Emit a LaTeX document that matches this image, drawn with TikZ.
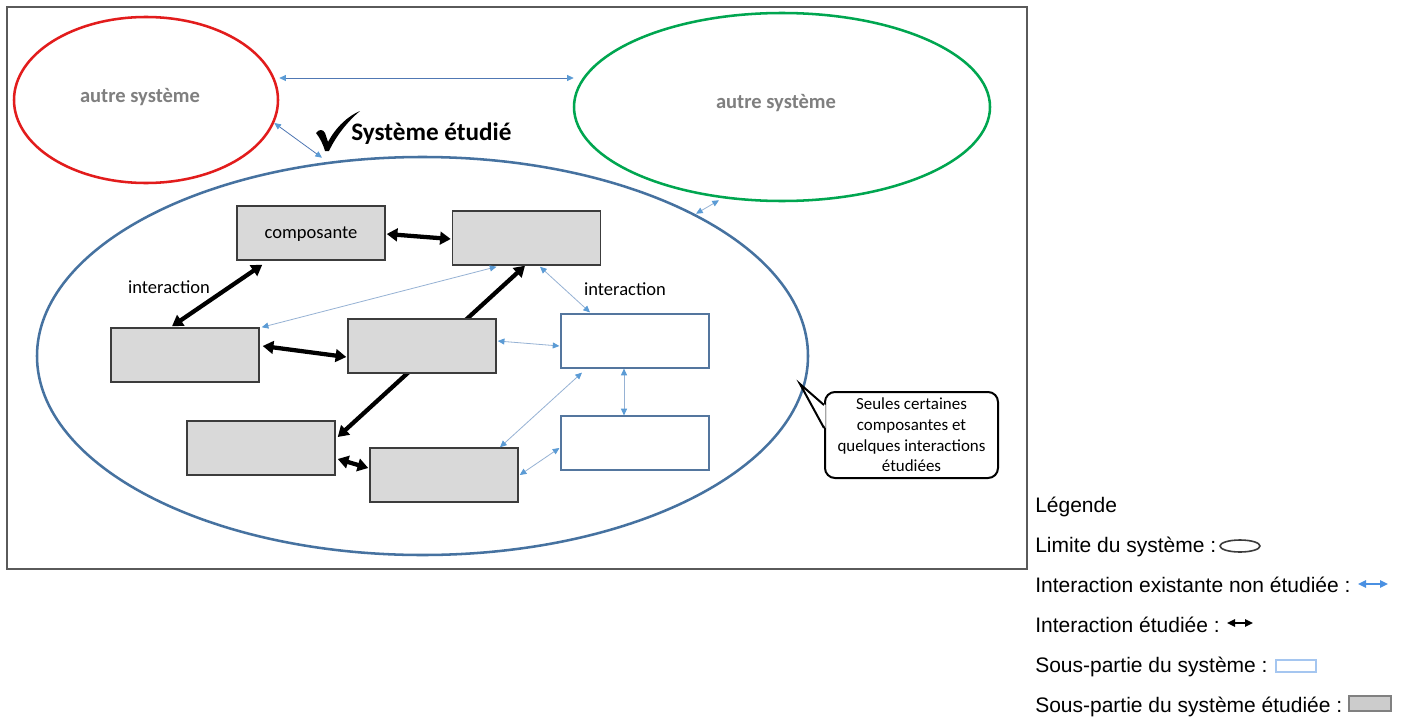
\documentclass[tikz,border=0pt]{standalone}
\usepackage{fontspec}
\setmainfont{Carlito}
\newfontfamily\legendfont{Liberation Sans}
\usetikzlibrary{arrows.meta,shapes.geometric,calc}
\pgfdeclarelayer{bg}
\pgfsetlayers{bg,main}
\definecolor{redE}{RGB}{226,28,28}
\definecolor{greenE}{RGB}{0,166,80}
\definecolor{blueE}{RGB}{70,114,160}
\definecolor{boxfill}{RGB}{217,217,217}
\definecolor{boxborder}{RGB}{60,60,60}
\definecolor{subborder}{RGB}{84,118,158}
\definecolor{thinline}{RGB}{150,178,212}
\definecolor{thinlineD}{RGB}{80,120,180}
\definecolor{thinhead}{RGB}{91,155,213}
\definecolor{graytext}{RGB}{127,127,127}
\definecolor{framecol}{RGB}{90,90,90}
\definecolor{legblue}{RGB}{74,144,226}
\definecolor{legrect}{RGB}{165,198,240}
\begin{document}
\begin{tikzpicture}[x=0.75pt,y=-0.75pt,
  comp/.style={draw=boxborder, fill=boxfill, line width=1.1pt, minimum width=111pt, minimum height=40.5pt, inner sep=0pt, font=\fontsize{13.9}{16}\selectfont},
  sub/.style={draw=subborder, fill=white, line width=0.9pt, minimum width=111pt, minimum height=40.5pt, inner sep=0pt},
  thickarr/.style={line width=3.2pt, {Triangle[length=8pt,width=9.5pt]}-{Triangle[length=8pt,width=9.5pt]}},
  thinarr/.style={draw=thinline, line width=0.6pt, {Triangle[length=5pt,width=4.5pt,color=thinhead]}-{Triangle[length=5pt,width=4.5pt,color=thinhead]}},
  thinarrD/.style={thinarr, draw=thinlineD},
  sysell/.style={ellipse, inner sep=0pt, line width=1.9pt},
  othertext/.style={font=\fontsize{15.4}{18}\selectfont\bfseries, text=graytext},
  lbl/.style={font=\fontsize{13.9}{16}\selectfont},
  legtext/.style={anchor=base west, inner sep=0pt, font=\legendfont\fontsize{15.75}{18}\selectfont}
]
\useasboundingbox (0,0) rectangle (1401,717);
\begin{pgfonlayer}{bg}
\fill[white] (0,0) rectangle (1401,717);
\end{pgfonlayer}
% frame
\draw[framecol, line width=1.1pt] (7,7) rectangle (1027,569);

% ellipses
\node[sysell, draw=redE, minimum width=198pt, minimum height=124.5pt] (R) at (146,100) {};
\node[sysell, draw=greenE, minimum width=312pt, minimum height=141pt] (Gr) at (782,107) {};
\node[sysell, draw=blueE, minimum width=578.25pt, minimum height=298.5pt] (S) at (422.5,356) {};
\node[othertext] (Rt) at (140,97) {autre système};
\node[othertext] (Gt) at (776,103) {autre système};

% title with check mark
\fill (316,133) .. controls (319,129) and (323,129) .. (325,133)
  .. controls (326,136) and (327,139) .. (328,142)
  .. controls (336,127) and (348,116) .. (360,111)
  .. controls (348,121) and (336,136) .. (329,151)
  -- (325,151)
  .. controls (323,144) and (320,138) .. (316,133) -- cycle;
\node[anchor=west, inner sep=0pt, font=\fontsize{18.9}{22}\selectfont\bfseries] (T) at (351,134) {Système étudié};

% components
\node[comp, text height=2.3ex] (A) at (311,233) {composante};
\node[comp] (B) at (526.5,238) {};
\node[comp] (C) at (185,355) {};
\node[comp] (D) at (422,346) {};
\node[comp] (E) at (261,448) {};
\node[comp] (F) at (444,475) {};
\node[sub] (G) at (635,341) {};
\node[sub] (H) at (635,443) {};

\node[lbl] (L1) at (169,287) {interaction};
\node[lbl] (L2) at (625,289) {interaction};

% thick arrow behind D
\begin{pgfonlayer}{bg}
\draw[thickarr] ($(E.east)+(2,-11)$) -- ($(B.south)+(-1.5,0)$);
\end{pgfonlayer}
% thick arrows
\draw[thickarr] ($(A.east)+(1,1)$) -- ($(B.west)+(-1,1)$);
\draw[thickarr] ($(A.south west)+(26,4)$) -- ($(C.north)+(-13,-1)$);
\draw[thickarr] ($(C.east)+(3,-9)$) -- ($(D.west)+(-1,11)$);
\draw[thickarr] ($(E.east)+(2,11)$) -- ($(F.west)+(-1,-7)$);

% thin arrows
\draw[thinarr] ($(C.north east)+(2,0)$) -- ($(B.south)+(-30,1)$);
\draw[thinarr] ($(B.south)+(13.5,1)$) -- ($(G.north)+(-45,-1)$);
\draw[thinarr] ($(D.east)+(1,-5)$) -- ($(G.west)+(-1,5)$);
\draw[thinarr] ($(G.south)+(-11,0)$) -- ($(H.north)+(-11,0)$);
\draw[thinarr] ($(F.north)+(56,0)$) -- ($(G.south)+(-53,4)$);
\draw[thinarr] ($(F.east)+(1,0)$) -- ($(H.west)+(-1,5)$);
\draw[thinarrD] ($(R.east)+(0,-22)$) -- ($(Gr.west)+(1,-29)$);
\draw[thinarrD] ($(R.east)+(-5,23)$) -- ($(S.north)+(-100.5,2)$);
\draw[thinarr] ($(S.north)+(273.5,58)$) -- ($(Gr.south)+(-63,-2)$);

% callout
\node[draw, line width=1.5pt, rounded corners=7.5pt, fill=white, minimum width=129.75pt, minimum height=64.5pt, inner sep=0pt, align=center, font=\fontsize{12.7}{15.5}\selectfont] (K) at (911.5,435) {Seules certaines\\composantes et\\quelques interactions\\étudiées};
\coordinate (tip) at ($(K.west)+(-24,-51)$);
\fill[white] ($(K.west)+(1.6,-30)$) -- (tip) -- ($(K.west)+(1.6,-7)$) -- cycle;
\draw[line width=1.5pt, line join=miter] ($(K.west)+(0,-30)$) -- (tip) -- ($(K.west)+(0,-7)$);

% legend
\node[legtext] (lg0) at (1035,512) {Légende};
\node[legtext] (lg1) at (1035,552) {Limite du système :};
\node[legtext] (lg2) at (1035,592) {Interaction existante non étudiée :};
\node[legtext] (lg3) at (1035,632) {Interaction étudiée :};
\node[legtext] (lg4) at (1035,672) {Sous-partie du système :};
\node[legtext] (lg5) at (1035,712) {Sous-partie du système étudiée :};

\draw[boxborder, line width=1.2pt] (1240,546) ellipse [x radius=20, y radius=6];
\coordinate (b1) at (1358,584);
\coordinate (b2) at (1388,584);
\draw[legblue, line width=1.4pt, {Triangle[length=6pt,width=5.5pt]}-{Triangle[length=6pt,width=5.5pt]}] (b1) -- (b2);
\coordinate (k1) at (1227,623);
\coordinate (k2) at (1253,623);
\draw[line width=1.4pt, {Triangle[length=6pt,width=5.5pt]}-{Triangle[length=6pt,width=5.5pt]}] (k1) -- (k2);
\draw[legrect, line width=1.6pt, fill=white] (1276,660) rectangle (1316,672);
\draw[gray, line width=1.8pt, fill=boxfill!85!gray] (1349,696) rectangle (1391,711);
\end{tikzpicture}
\end{document}
